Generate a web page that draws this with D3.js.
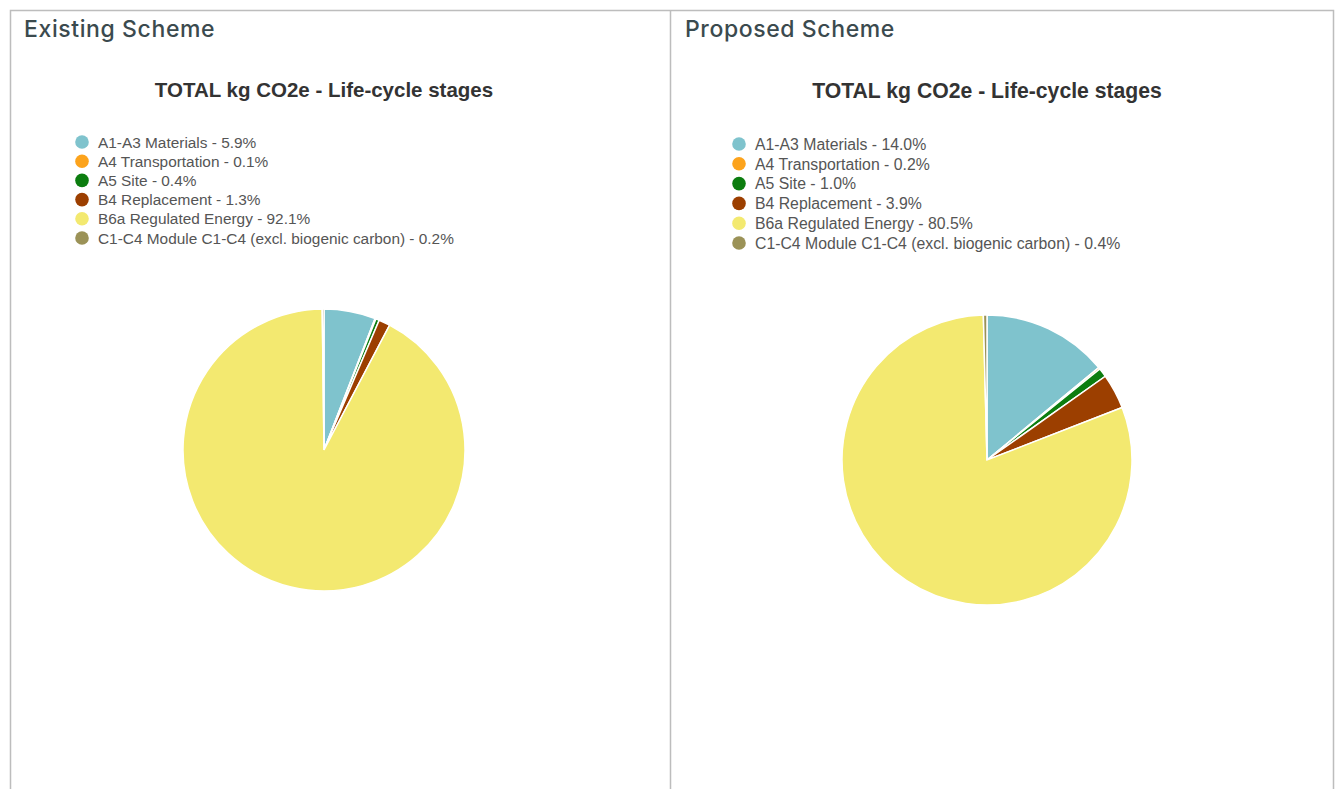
<!DOCTYPE html>
<html>
<head>
<meta charset="utf-8">
<script src="https://cdn.jsdelivr.net/npm/d3@7"></script>
<style>
  body { margin: 0; background: #fff; }
  svg { display: block; }
</style>
</head>
<body>
<div id="chart"></div>
<script>
// Life-cycle stages shared by both schemes
let stages = ["A1-A3 Materials", "A4 Transportation", "A5 Site", "B4 Replacement",
              "B6a Regulated Energy", "C1-C4 Module C1-C4 (excl. biogenic carbon)"];
let stageColors = ["#7fc3cd", "#fca31c", "#0c7d0f", "#9c3f00", "#f3e970", "#9b9257"];

// percent share of total kg CO2e
let existingValues = [5.9, 0.1, 0.4, 1.3, 92.1, 0.2];
let proposedValues = [14.0, 0.2, 1.0, 3.9, 80.5, 0.4];

let panelTitles = ["Existing Scheme", "Proposed Scheme"];
let chartTitle = "TOTAL kg CO2e - Life-cycle stages";

let width = 1340, height = 789;

let svg = d3.select("#chart").append("svg")
    .attr("width", width)
    .attr("height", height);

// panel frame
let frame = svg.append("g").attr("class", "frame")
    .style("stroke", "#bdbdbd").style("stroke-width", 1.5).style("fill", "none");
frame.append("path").attr("d", "M10.5,800 V10.5 H1333.5 V800");
frame.append("line").attr("x1", 670.5).attr("x2", 670.5).attr("y1", 10).attr("y2", 800);

let color = d3.scaleOrdinal().domain(stages).range(stageColors);

let panels = [
  {title: panelTitles[0], values: existingValues, titleX: 24, cx: 324, chartTitleY: 97, titleSize: 20.5,
   legendX: 82, legendY: 142, legendStep: 19.2, cy: 450, r: 141, fontSize: 15.4},
  {title: panelTitles[1], values: proposedValues, titleX: 685, cx: 987, chartTitleY: 98, titleSize: 21.2,
   legendX: 739, legendY: 144, legendStep: 19.8, cy: 460, r: 145, fontSize: 15.8}
];

let pie = d3.pie().sort(null).value(function(d){ return d.value; });

panels.forEach(function(p){
  let g = svg.append("g").attr("class", "panel");

  g.append("text")
    .attr("x", p.titleX).attr("y", 37)
    .style("font-family", "Inter, Roboto, sans-serif")
    .style("font-size", "23px")
    .style("font-weight", 500)
    .style("letter-spacing", "0.6px")
    .style("fill", "#3b4a4e")
    .text(p.title);

  g.append("text")
    .attr("x", p.cx).attr("y", p.chartTitleY)
    .attr("text-anchor", "middle")
    .style("font-family", "Arial, 'Liberation Sans', sans-serif")
    .style("font-weight", "bold")
    .style("font-size", p.titleSize + "px")
    .style("fill", "#333")
    .text(chartTitle);

  let rows = stages.map(function(s, i){ return {name: s, value: p.values[i]}; });

  let legend = g.append("g").attr("class", "legend")
    .selectAll("g")
    .data(rows)
    .enter().append("g")
      .attr("transform", function(d, i){ return "translate(" + p.legendX + "," + (p.legendY + i * p.legendStep) + ")"; });

  legend.append("circle")
    .attr("r", 6.8)
    .style("fill", function(d){ return color(d.name); });

  legend.append("text")
    .attr("x", 16).attr("dy", "0.36em")
    .style("font-family", "Arial, 'Liberation Sans', sans-serif")
    .style("font-size", p.fontSize + "px")
    .style("fill", "#555")
    .text(function(d){ return d.name + " - " + d.value.toFixed(1) + "%"; });

  let arc = d3.arc().innerRadius(0).outerRadius(p.r);

  g.append("g")
    .attr("transform", "translate(" + p.cx + "," + p.cy + ")")
    .selectAll("path")
    .data(pie(rows))
    .enter().append("path")
      .attr("d", arc)
      .style("fill", function(d){ return color(d.data.name); })
      .style("stroke", "#fff")
      .style("stroke-width", 1.5);
});
</script>
</body>
</html>
